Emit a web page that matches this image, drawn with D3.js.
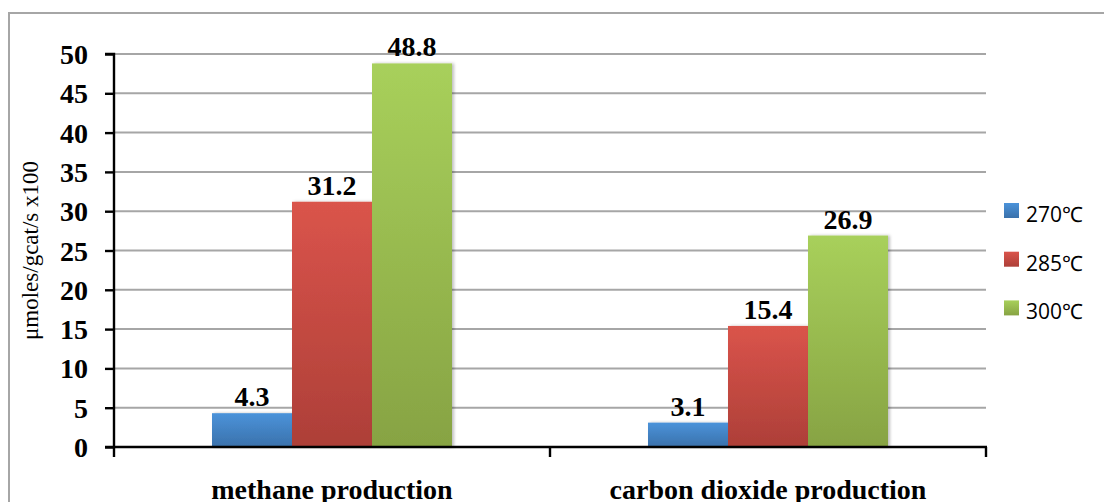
<!DOCTYPE html>
<html>
<head>
<meta charset="utf-8">
<script src="https://cdn.jsdelivr.net/npm/d3@7"></script>
<style>
  html, body { margin: 0; padding: 0; background: #fff; }
  svg { display: block; }
</style>
</head>
<body>
<svg id="chart" width="1104" height="502"></svg>
<script>
// Production rates by reaction temperature
const categories = ["methane production", "carbon dioxide production"];
const seriesNames = ["270℃", "285℃", "300℃"];
const values270 = [4.3, 3.1];
const values285 = [31.2, 15.4];
const values300 = [48.8, 26.9];
const yTicks = [0, 5, 10, 15, 20, 25, 30, 35, 40, 45, 50];
const seriesValues = [values270, values285, values300];

const colors = [
  { top: "#4b93da", bottom: "#3a71ab" },
  { top: "#da544b", bottom: "#ad3f38" },
  { top: "#a8d05b", bottom: "#87a343" }
];

const serif = "Liberation Serif, Times New Roman, serif";
const svg = d3.select("#chart");
const W = 1104, H = 502;
const x0 = 114, x1 = 986, yTop = 54, yBot = 447;

// frame around the chart area
svg.append("path")
  .attr("d", `M9,${H + 2} L9,13 L${W + 2},13`)
  .attr("fill", "none").attr("stroke", "#a6a6a6").attr("stroke-width", 2);

const defs = svg.append("defs");
colors.forEach((c, i) => {
  const g = defs.append("linearGradient").attr("id", "grad" + i)
    .attr("x1", 0).attr("y1", 0).attr("x2", 0).attr("y2", 1);
  g.append("stop").attr("offset", "0%").attr("stop-color", c.top);
  g.append("stop").attr("offset", "100%").attr("stop-color", c.bottom);
});
const shadow = defs.append("filter").attr("id", "shadow")
  .attr("x", "-10%").attr("y", "-10%").attr("width", "130%").attr("height", "130%");
shadow.append("feDropShadow").attr("dx", 2).attr("dy", 0).attr("stdDeviation", 1.5)
  .attr("flood-color", "#000").attr("flood-opacity", 0.25);

const y = d3.scaleLinear().domain([0, 50]).range([yBot, yTop]);
const xCat = d3.scaleBand().domain(categories).range([x0, x1]).paddingInner(0).paddingOuter(0);
const bandPad = (xCat.bandwidth() - 240) / 2;
const xSeries = d3.scaleBand().domain(d3.range(seriesNames.length))
  .range([bandPad, xCat.bandwidth() - bandPad]).padding(0);

// gridlines
svg.append("g").selectAll("line").data(yTicks.filter(d => d > 0)).join("line")
  .attr("x1", x0).attr("x2", x1)
  .attr("y1", d => y(d)).attr("y2", d => y(d))
  .attr("stroke", "#a6a6a6").attr("stroke-width", 2);

// bars and value labels
const groups = svg.append("g").selectAll("g").data(categories).join("g")
  .attr("transform", d => `translate(${xCat(d)},0)`);
groups.each(function(cat, ci) {
  const g = d3.select(this);
  seriesValues.forEach((vals, si) => {
    g.append("rect")
      .attr("x", xSeries(si)).attr("width", xSeries.bandwidth())
      .attr("y", y(vals[ci])).attr("height", yBot - y(vals[ci]))
      .attr("fill", `url(#grad${si})`)
      .attr("filter", "url(#shadow)");
  });
  seriesValues.forEach((vals, si) => {
    g.append("text")
      .attr("x", xSeries(si) + xSeries.bandwidth() / 2)
      .attr("y", y(vals[ci]) - 7)
      .attr("text-anchor", "middle")
      .attr("font-family", serif)
      .attr("font-weight", "bold").attr("font-size", 28)
      .attr("fill", "#000")
      .text(vals[ci].toFixed(1));
  });
});

// y axis
const yAxis = svg.append("g").attr("transform", `translate(${x0},0)`)
  .call(d3.axisLeft(y).tickValues(yTicks).tickSize(9).tickPadding(17).tickFormat(d3.format("d")));
yAxis.select(".domain").attr("stroke", "#000").attr("stroke-width", 2.4)
  .attr("d", `M-9,${yTop}H0V${yBot + 1}`);
yAxis.selectAll(".tick line").attr("stroke", "#000").attr("stroke-width", 2.4);
yAxis.selectAll(".tick text")
  .attr("font-family", serif)
  .attr("font-weight", "bold").attr("font-size", 28).attr("fill", "#000")
  .attr("dy", "0.34em");

// x axis
const xAxis = svg.append("g").attr("transform", `translate(0,${yBot})`);
xAxis.append("line").attr("x1", x0 - 9).attr("x2", x1 + 1).attr("y1", 0).attr("y2", 0)
  .attr("stroke", "#000").attr("stroke-width", 2.4);
const xTickPos = [x0, xCat(categories[1]), x1];
xAxis.selectAll(".xt").data(xTickPos).join("line")
  .attr("x1", d => d).attr("x2", d => d).attr("y1", 0).attr("y2", 10)
  .attr("stroke", "#000").attr("stroke-width", 2.4);
xAxis.selectAll(".xl").data(categories).join("text")
  .attr("x", d => xCat(d) + xCat.bandwidth() / 2)
  .attr("y", 52)
  .attr("text-anchor", "middle")
  .attr("font-family", serif)
  .attr("font-weight", "bold").attr("font-size", 28).attr("fill", "#000")
  .text(d => d);

// y axis title
svg.append("text")
  .attr("transform", `translate(38,${(yTop + yBot) / 2}) rotate(-90)`)
  .attr("text-anchor", "middle")
  .attr("font-family", serif)
  .attr("font-size", 23).attr("fill", "#000")
  .text("μmoles/gcat/s x100");

// legend
const legend = svg.append("g").attr("transform", "translate(1004,203)");
seriesNames.forEach((name, i) => {
  const row = legend.append("g").attr("transform", `translate(0,${i * 48.7})`);
  row.append("rect").attr("width", 15).attr("height", 15).attr("fill", `url(#grad${i})`);
  row.append("text").attr("x", 22).attr("y", 19)
    .attr("font-family", "Open Sans, Liberation Sans, sans-serif")
    .attr("font-size", 21).attr("fill", "#000")
    .text(name);
});
</script>
</body>
</html>
